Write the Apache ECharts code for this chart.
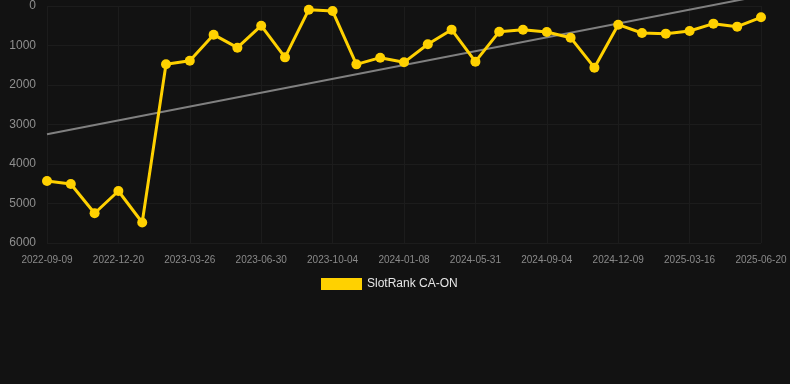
<!DOCTYPE html>
<html>
<head>
<meta charset="utf-8">
<script src="https://cdn.jsdelivr.net/npm/echarts@6/dist/echarts.min.js"></script>
<style>
html,body{margin:0;padding:0;background:#121212;}
#chart{width:790px;height:384px;}
</style>
</head>
<body>
<div id="chart"></div>
<script>
var categories = [
  '2022-09-09','2022-10-12','2022-11-15','2022-12-20','2023-01-21','2023-02-22',
  '2023-03-26','2023-04-27','2023-05-29','2023-06-30','2023-08-01','2023-09-02',
  '2023-10-04','2023-11-05','2023-12-07','2024-01-08','2024-02-24','2024-04-12',
  '2024-05-31','2024-07-01','2024-08-03','2024-09-04','2024-10-06','2024-11-07',
  '2024-12-09','2025-01-09','2025-02-12','2025-03-16','2025-04-17','2025-05-19',
  '2025-06-20'
];
var rankValues = [
  4430, 4506, 5247, 4684, 5481, 1476, 1384, 726, 1055, 498, 1300, 93,
  127, 1477, 1308, 1426, 970, 599, 1409, 650, 600, 658, 802, 1561,
  473, 684, 700, 633, 447, 523, 287
];
var trendStart = 3248;
var trendEnd = -258;
var yTicks = [0, 1000, 2000, 3000, 4000, 5000, 6000];

var trendData = categories.map(function(c, i){
  if (i === 0) return trendStart;
  if (i === categories.length - 1) return trendEnd;
  return null;
});

var chart = echarts.init(document.getElementById('chart'), null, {renderer:'canvas'});
chart.setOption({
  backgroundColor: '#121212',
  animation: false,
  grid: {left: 47, right: 29, top: 6, bottom: 141},
  legend: {
    data: [{name: 'SlotRank CA-ON', icon: 'rect'}],
    left: 316,
    top: 273,
    itemWidth: 41,
    itemHeight: 12,
    itemGap: 10,
    textStyle: {color: '#e6e6e6', fontSize: 12, fontFamily: 'Arial, Liberation Sans, sans-serif'}
  },
  xAxis: {
    type: 'category',
    data: categories,
    boundaryGap: false,
    axisLine: {show: false},
    axisTick: {show: false},
    axisLabel: {
      interval: 2,
      color: '#8a8a8a',
      fontSize: 10,
      margin: 12,
      fontFamily: 'Arial, Liberation Sans, sans-serif'
    },
    splitLine: {show: true, interval: 2, lineStyle: {color: '#1c1c1c', width: 1}}
  },
  yAxis: {
    type: 'value',
    inverse: true,
    min: yTicks[0],
    max: yTicks[yTicks.length - 1],
    interval: 1000,
    axisLine: {show: false},
    axisTick: {show: false},
    axisLabel: {
      color: '#8f8f8f',
      fontSize: 12,
      margin: 11,
      fontFamily: 'Arial, Liberation Sans, sans-serif',
      formatter: function(v){ return String(v); }
    },
    splitLine: {show: true, lineStyle: {color: '#1c1c1c', width: 1}}
  },
  series: [
    {
      name: 'Trend',
      type: 'line',
      data: trendData,
      connectNulls: true,
      clip: false,
      symbol: 'none',
      lineStyle: {color: '#808080', width: 2},
      silent: true,
      z: 1
    },
    {
      name: 'SlotRank CA-ON',
      type: 'line',
      data: rankValues,
      symbol: 'circle',
      symbolSize: 10,
      itemStyle: {color: '#FFD100'},
      lineStyle: {color: '#FFD100', width: 3},
      z: 2
    }
  ]
});
</script>
</body>
</html>
